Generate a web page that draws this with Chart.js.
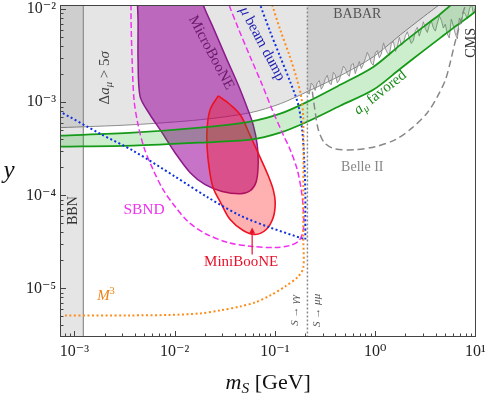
<!DOCTYPE html>
<html>
<head>
<meta charset="utf-8">
<title>Scalar parameter space</title>
<script src="https://cdn.jsdelivr.net/npm/chart.js@4.4.1/dist/chart.umd.min.js"></script>
<style>
html,body{margin:0;padding:0;background:#ffffff;}
canvas{display:block;}
</style>
</head>
<body>
<canvas id="chart" width="485" height="400"></canvas>
<script>
// ---------------- axis ranges ----------------
const xRange = [7.2e-4, 10];
const yRange = [3.0e-6, 1.11e-2];

// ---------------- data (m_S [GeV], y) ----------------
// Delta a_mu > 5 sigma exclusion boundary
const deltaAM = [7.0e-4, 3.85e-3, 1.80e-2, 5.67e-2, 0.113, 0.210, 0.448, 0.957, 1.78, 3.02, 4.46, 6.02];
const deltaAY = [5.33e-4, 5.74e-4, 6.49e-4, 7.72e-4, 9.64e-4, 1.30e-3, 1.93e-3, 3.08e-3, 5.30e-3, 8.27e-3, 1.14e-2, 1.50e-2];

// BBN band
const bbnM = [7.0e-4, 1.23e-3, 1.23e-3, 7.0e-4, 7.0e-4];
const bbnY = [2.0e-6, 2.0e-6, 2.0e-2, 2.0e-2, 2.0e-6];

// BABAR exclusion edge
const babarM = [0.210, 0.220, 0.230, 0.241, 0.252, 0.264, 0.277, 0.290, 0.303, 0.318,
                0.333, 0.349, 0.365, 0.382, 0.400, 0.419, 0.438, 0.459, 0.481, 0.503,
                0.527, 0.552, 0.578, 0.605, 0.633, 0.663, 0.694, 0.727, 0.761, 0.797,
                0.834, 0.873, 0.914, 0.956, 1.00, 1.05, 1.10, 1.15, 1.21, 1.26,
                1.32, 1.38, 1.45, 1.52, 1.59, 1.66, 1.74, 1.82, 1.91, 2.00,
                2.09, 2.19, 2.29, 2.40, 2.51, 2.63, 2.75, 2.88, 3.02, 3.16,
                3.31, 3.47, 3.63, 3.80, 3.98, 4.17, 4.36, 4.57, 4.78, 5.00,
                5.24, 5.48, 5.74, 6.01, 6.30, 6.59, 6.90, 7.23, 7.57, 7.93,
                8.30, 8.69, 9.10, 9.54, 10.0];
const babarY = [1.30e-3, 1.22e-3, 1.61e-3, 1.52e-3, 1.34e-3, 1.62e-3, 1.71e-3, 1.38e-3, 1.50e-3, 1.80e-3,
                1.95e-3, 1.60e-3, 1.55e-3, 2.10e-3, 1.97e-3, 1.62e-3, 1.73e-3, 2.05e-3, 2.45e-3, 2.30e-3,
                2.02e-3, 1.90e-3, 2.53e-3, 2.60e-3, 2.03e-3, 2.38e-3, 2.74e-3, 2.30e-3, 2.55e-3, 2.95e-3,
                3.44e-3, 3.10e-3, 2.63e-3, 2.50e-3, 3.38e-3, 3.60e-3, 3.00e-3, 3.30e-3, 4.35e-3, 3.80e-3,
                3.42e-3, 3.20e-3, 4.28e-3, 4.50e-3, 3.52e-3, 3.90e-3, 4.98e-3, 4.10e-3, 4.33e-3, 5.20e-3,
                5.72e-3, 4.90e-3, 4.28e-3, 4.60e-3, 5.79e-3, 6.40e-3, 5.14e-3, 6.00e-3, 7.32e-3, 6.20e-3,
                5.62e-3, 6.80e-3, 7.43e-3, 6.30e-3, 5.82e-3, 7.10e-3, 8.43e-3, 7.60e-3, 6.27e-3, 6.90e-3,
                5.40e-3, 4.90e-3, 7.83e-3, 6.60e-3, 5.40e-3, 4.80e-3, 8.03e-3, 7.00e-3, 9.47e-3, 8.80e-3,
                7.87e-3, 1.00e-2, 1.15e-2, 9.00e-3, 1.06e-2];

// a_mu favored band
const gM    = [7.0e-4, 3.85e-3, 1.80e-2, 5.67e-2, 0.113, 0.210, 0.448, 0.957, 1.78, 3.02, 4.46, 6.02, 7.07, 10.5];
const gUp   = [4.37e-4, 4.71e-4, 5.33e-4, 6.18e-4, 7.53e-4, 1.01e-3, 1.54e-3, 2.40e-3, 4.14e-3, 6.46e-3, 8.90e-3, 1.17e-2, 1.36e-2, 1.87e-2];
const gLow  = [3.33e-4, 3.42e-4, 3.68e-4, 3.96e-4, 4.71e-4, 6.18e-4, 9.17e-4, 1.36e-3, 2.29e-3, 3.57e-3, 4.92e-3, 6.30e-3, 7.13e-3, 9.83e-3];

// MicroBooNE region
const mbM = [4.22e-3, 4.32e-3, 4.32e-3, 4.53e-3, 5.69e-3, 7.17e-3, 1.01e-2, 1.43e-2, 2.02e-2, 2.98e-2, 4.51e-2, 5.67e-2,
             6.51e-2, 6.81e-2, 6.66e-2, 6.07e-2, 5.29e-2, 4.30e-2, 3.27e-2, 2.48e-2, 1.93e-2, 1.84e-2, 4.22e-3];
const mbY = [1.42e-2, 7.68e-3, 2.86e-3, 1.15e-3, 7.34e-4, 5.07e-4, 2.87e-4, 1.75e-4, 1.30e-4, 1.10e-4, 1.04e-4, 1.12e-4,
             1.40e-4, 2.14e-4, 3.50e-4, 5.74e-4, 8.73e-4, 1.54e-3, 3.00e-3, 6.00e-3, 1.11e-2, 1.42e-2, 1.42e-2];

// MiniBooNE region
const nbM = [2.72e-2, 3.50e-2, 4.51e-2, 5.67e-2, 7.14e-2, 8.57e-2, 9.62e-2, 0.1007, 9.62e-2, 8.19e-2,
             6.36e-2, 4.83e-2, 3.58e-2, 2.91e-2, 2.42e-2, 2.21e-2, 2.11e-2, 2.11e-2, 2.26e-2, 2.72e-2];
const nbY = [1.17e-3, 9.64e-4, 7.34e-4, 4.37e-4, 2.54e-4, 1.63e-4, 1.15e-4, 8.35e-5, 5.76e-5, 4.29e-5,
             3.79e-5, 4.18e-5, 5.49e-5, 8.15e-5, 1.21e-4, 1.98e-4, 3.25e-4, 5.33e-4, 8.31e-4, 1.17e-3];

// SBND projected contour
const sbM = [3.68e-3, 3.68e-3, 3.77e-3, 3.94e-3, 4.32e-3, 4.96e-3, 6.10e-3, 7.68e-3, 1.01e-2, 1.36e-2, 2.02e-2, 3.42e-2, 5.94e-2, 0.1007,
             0.142, 0.175, 0.192, 0.192, 0.183, 0.167, 0.142, 0.121, 9.40e-2, 7.47e-2, 5.67e-2, 4.30e-2, 3.50e-2, 3.34e-2];
const sbY = [1.42e-2, 7.68e-3, 2.86e-3, 1.06e-3, 5.74e-4, 3.25e-4, 1.89e-4, 1.15e-4, 7.57e-5, 5.22e-5, 3.88e-5, 3.11e-5, 2.82e-5, 2.75e-5,
             2.89e-5, 3.27e-5, 4.29e-5, 7.02e-5, 1.15e-4, 1.89e-4, 3.09e-4, 4.48e-4, 8.31e-4, 1.54e-3, 3.08e-3, 6.30e-3, 1.11e-2, 1.42e-2];

// mu beam dump (lower diagonal and right-hand edge)
const bdLowM = [6.42e-4, 1.81e-3, 3.85e-3, 1.01e-2, 2.16e-2, 4.51e-2, 8.98e-2, 0.201];
const bdLowY = [8.51e-4, 4.59e-4, 3.02e-4, 1.59e-4, 9.45e-5, 6.06e-5, 4.50e-5, 3.35e-5];
const bdUpM  = [0.201, 0.201, 0.201, 0.196, 0.187, 0.171, 0.142, 0.113, 8.98e-2, 7.14e-2, 6.81e-2];
const bdUpY  = [3.35e-5, 6.21e-5, 1.07e-4, 2.42e-4, 5.07e-4, 9.40e-4, 1.66e-3, 3.08e-3, 5.71e-3, 1.11e-2, 1.32e-2];

// M^3 projection
const m3M = [8.08e-4, 3.60e-3, 9.02e-3, 1.80e-2, 2.85e-2, 4.51e-2, 6.36e-2, 8.98e-2, 0.127, 0.171,
             0.192, 0.192, 0.192, 0.192, 0.183, 0.163, 0.139, 0.113, 9.40e-2, 8.98e-2];
const m3Y = [5.12e-6, 5.12e-6, 5.18e-6, 5.38e-6, 5.79e-6, 6.39e-6, 7.06e-6, 8.39e-6, 1.05e-5, 1.34e-5,
             1.68e-5, 3.35e-5, 1.07e-4, 6.49e-4, 1.15e-3, 1.88e-3, 3.23e-3, 6.00e-3, 1.11e-2, 1.32e-2];

// Belle II projection
const b2M = [0.236, 0.252, 0.271, 0.311, 0.391, 0.633, 1.00, 1.59, 2.35, 3.31, 4.17, 5.01, 5.62, 6.16, 6.75, 7.40, 7.93];
const b2Y = [1.30e-3, 7.91e-4, 5.07e-4, 3.68e-4, 3.17e-4, 3.09e-4, 3.33e-4, 3.96e-4, 5.33e-4, 7.72e-4, 1.15e-3, 1.74e-3, 2.72e-3, 4.14e-3, 6.00e-3, 8.69e-3, 1.11e-2];

// S -> mu mu threshold (2 m_mu)
const thrM = [0.211, 0.211];
const thrY = [1.0e-6, 1.0e-1];

// ---------------- text annotations (anchored in data units) ----------------
const FF = "'Liberation Serif','DejaVu Serif',serif";
const textLabels = [
  {m: 0.663,   y: 8.9e-3,  rot: 0,   size: 14,   color: '#555555', parts: [['BABAR']]},
  {m: 0.7435,  y: 1.98e-4, rot: 0,   size: 14,   color: '#888888', parts: [['Belle II']]},
  {m: 9.1,     y: 4.35e-3, rot: -90, size: 14,   color: '#333333', parts: [['CMS']]},
  {m: 2.03e-3, y: 1.83e-3, rot: -90, size: 15,   color: '#444444', parts: [['Δ'], ['a', 'i'], ['μ', 'ib'], [' > 5'], ['σ', 'i']]},
  {m: 9.7e-4,  y: 6.85e-5, rot: -90, size: 14,   color: '#333333', parts: [['BBN']]},
  {m: 2.31e-2, y: 3.40e-3, rot: 62,  size: 15,   color: '#6a1a6a', parts: [['MicroBooNE']]},
  {m: 7.47e-2, y: 4.24e-3, rot: 62,  size: 15,   color: '#1a1ab0', parts: [['μ', 'i'], [' beam dump']]},
  {m: 1.124,   y: 1.264e-3, rot: -38, size: 15,  color: '#1a8a1a', parts: [['a', 'i'], ['μ', 'ib'], [' favored']]},
  {m: 4.96e-3, y: 7.02e-5, rot: 0,   size: 15.5, color: '#ee33ee', parts: [['SBND']]},
  {m: 4.61e-2, y: 1.9e-5,  rot: 0,   size: 15,   color: '#e8102a', parts: [['MiniBooNE']]},
  {m: 2.07e-3, y: 8.18e-6, rot: 0,   size: 15,   color: '#f08010', parts: [['M', 'i'], ['3', 'p']]},
  {m: 0.1594,  y: 5.8e-6,  rot: -90, size: 11,   color: '#555555', parts: [['S', 'i'], [' → '], ['γγ', 'i']]},
  {m: 0.2644,  y: 5.8e-6,  rot: -90, size: 11,   color: '#555555', parts: [['S', 'i'], [' → '], ['μμ', 'i']]}
];
const arrowMini = {m: 5.93e-2, yFrom: 2.31e-5, yTo: 4.5e-5, color: '#e8102a'};

// ---------------- helpers ----------------
const pts = (ms, ys) => ms.map((m, i) => ({x: m, y: ys[i]}));
const SUP = {'-': '⁻', '0': '⁰', '1': '¹', '2': '²', '3': '³', '4': '⁴', '5': '⁵', '6': '⁶', '7': '⁷', '8': '⁸', '9': '⁹'};
function decadeExp(v) { const l = Math.log10(v); const r = Math.round(l); return Math.abs(l - r) < 1e-6 ? r : null; }
function decadeLabel(v) { const e = decadeExp(v); return e === null ? '' : '10' + String(e).split('').map(c => SUP[c]).join(''); }
function keepIntegerTicks(scale) {
  scale.ticks = scale.ticks.filter(t => {
    const e = Math.floor(Math.log10(t.value) + 1e-9);
    const s = t.value / Math.pow(10, e);
    return Math.abs(s - Math.round(s)) < 1e-6;
  });
}

function drawRich(ctx, parts, size, color) {
  const items = parts.map(([t, f = '']) => {
    const small = f.includes('b') || f.includes('p');
    const s = small ? size * 0.7 : size;
    const font = (f.includes('i') ? 'italic ' : '') + s + 'px ' + FF;
    ctx.font = font;
    const w = ctx.measureText(t).width;
    const dy = f.includes('b') ? size * 0.28 : (f.includes('p') ? -size * 0.38 : 0);
    return {t, font, w, dy};
  });
  const total = items.reduce((a, b) => a + b.w, 0);
  let x = -total / 2;
  ctx.fillStyle = color;
  ctx.textBaseline = 'middle';
  ctx.textAlign = 'left';
  items.forEach(it => { ctx.font = it.font; ctx.fillText(it.t, x, it.dy); x += it.w; });
}

// ---------------- datasets (listed bottom -> top) ----------------
const base = {showLine: true, pointRadius: 0, pointHoverRadius: 0, pointHitRadius: 0, fill: false, tension: 0};
const layers = [
  {...base, label: 'Δa_μ > 5σ', data: pts(deltaAM, deltaAY), borderColor: '#8c8c8c', borderWidth: 1,
    fill: 'end', backgroundColor: 'rgba(0,0,0,0.10)', tension: 0.3},
  {...base, label: 'BBN', data: pts(bbnM, bbnY), borderColor: '#8c8c8c', borderWidth: 1.2,
    fill: 'shape', backgroundColor: 'rgba(0,0,0,0.10)'},
  {...base, label: 'BABAR', data: pts(babarM, babarY), borderColor: '#8a8a8a', borderWidth: 0.9,
    fill: 'end', backgroundColor: 'rgba(0,0,0,0.10)'},
  {...base, label: 'MicroBooNE', data: pts(mbM, mbY), borderColor: '#8b1a8b', borderWidth: 1.5,
    fill: 'shape', backgroundColor: 'rgba(153,0,153,0.55)', tension: 0.3},
  {...base, label: 'MiniBooNE', data: pts(nbM, nbY), borderColor: '#ee1122', borderWidth: 1.6,
    fill: 'shape', backgroundColor: 'rgba(255,0,0,0.31)', tension: 0.35},
  {...base, label: 'a_μ favored (low)', data: pts(gM, gLow), borderColor: '#17991a', borderWidth: 1.8, tension: 0.3},
  {...base, label: 'a_μ favored (high)', data: pts(gM, gUp), borderColor: '#17991a', borderWidth: 1.8, tension: 0.3,
    fill: 5, backgroundColor: 'rgba(0,170,0,0.20)'},
  {...base, label: 'SBND', data: pts(sbM, sbY), borderColor: '#f230f2', borderWidth: 1.5, borderDash: [6, 3], tension: 0.3},
  {...base, label: 'μ beam dump', data: pts(bdLowM, bdLowY), borderColor: '#1030e0', borderWidth: 2, borderDash: [2, 2.5], tension: 0.3},
  {...base, label: 'μ beam dump edge', data: pts(bdUpM, bdUpY), borderColor: '#1030e0', borderWidth: 2, borderDash: [2, 2.5], tension: 0.3},
  {...base, label: 'M³', data: pts(m3M, m3Y), borderColor: '#ff8c1a', borderWidth: 2, borderDash: [2, 2.5], tension: 0.3},
  {...base, label: 'Belle II', data: pts(b2M, b2Y), borderColor: '#888888', borderWidth: 1.5, borderDash: [7, 4], tension: 0.3},
  {...base, label: '2m_μ', data: pts(thrM, thrY), borderColor: '#888888', borderWidth: 1.5, borderDash: [2, 2]}
];
layers.forEach((d, i) => { d.order = layers.length - i; });

// ---------------- overlay plugin: ticks, frame, labels, titles ----------------
const overlay = {
  id: 'overlay',
  afterDatasetsDraw(chart) {
    const {ctx, chartArea: a, scales: {x, y}} = chart;
    ctx.save();
    // inward ticks
    ctx.strokeStyle = '#444444';
    ctx.lineWidth = 1;
    ctx.beginPath();
    x.ticks.forEach(t => {
      const px = Math.round(x.getPixelForValue(t.value)) + 0.5;
      if (px < a.left || px > a.right) return;
      const L = decadeExp(t.value) !== null ? 6 : 3.5;
      ctx.moveTo(px, a.bottom); ctx.lineTo(px, a.bottom - L);
    });
    y.ticks.forEach(t => {
      const py = Math.round(y.getPixelForValue(t.value)) + 0.5;
      if (py < a.top || py > a.bottom) return;
      const L = decadeExp(t.value) !== null ? 6 : 3.5;
      ctx.moveTo(a.left, py); ctx.lineTo(a.left + L, py);
    });
    ctx.stroke();
    // frame
    ctx.strokeStyle = '#444444';
    ctx.strokeRect(Math.round(a.left) + 0.5, Math.round(a.top) + 0.5,
                   Math.round(a.right - a.left) - 1, Math.round(a.bottom - a.top) - 1);

    // MiniBooNE arrow
    const ax = x.getPixelForValue(arrowMini.m);
    const ay0 = y.getPixelForValue(arrowMini.yFrom);
    const ay1 = y.getPixelForValue(arrowMini.yTo);
    ctx.strokeStyle = arrowMini.color; ctx.fillStyle = arrowMini.color; ctx.lineWidth = 1.2;
    ctx.beginPath(); ctx.moveTo(ax, ay0); ctx.lineTo(ax, ay1 + 2); ctx.stroke();
    ctx.beginPath(); ctx.moveTo(ax, ay1); ctx.lineTo(ax - 3, ay1 + 6); ctx.lineTo(ax + 3, ay1 + 6); ctx.closePath(); ctx.fill();

    // labels
    textLabels.forEach(L => {
      ctx.save();
      ctx.translate(x.getPixelForValue(L.m), y.getPixelForValue(L.y));
      ctx.rotate(L.rot * Math.PI / 180);
      drawRich(ctx, L.parts, L.size, L.color);
      ctx.restore();
    });

    // axis titles
    ctx.save();
    ctx.translate((a.left + a.right) / 2 + 0.5, 383);
    drawRich(ctx, [['m', 'i'], ['S', 'ib'], [' [GeV]']], 22, '#111111');
    ctx.restore();
    ctx.save();
    ctx.translate(9, (a.top + a.bottom) / 2);
    drawRich(ctx, [['y', 'i']], 25, '#111111');
    ctx.restore();
    ctx.restore();
  }
};

const tickFont = {family: FF, size: 16};
new Chart(document.getElementById('chart').getContext('2d'), {
  type: 'scatter',
  data: {datasets: layers},
  options: {
    responsive: false,
    animation: false,
    devicePixelRatio: 1,
    events: [],
    layout: {padding: {top: 5, right: 9.5, left: 0, bottom: 0}},
    plugins: {legend: {display: false}, tooltip: {enabled: false}},
    scales: {
      x: {
        type: 'logarithmic', min: xRange[0], max: xRange[1],
        grid: {display: false, drawTicks: false}, border: {display: false},
        ticks: {autoSkip: false, maxRotation: 0, minRotation: 0, padding: 5, color: '#222222', font: tickFont, callback: decadeLabel},
        afterBuildTicks: keepIntegerTicks,
        afterFit(s) { s.height = 63; s.paddingLeft = 0; s.paddingRight = 0; }
      },
      y: {
        type: 'logarithmic', min: yRange[0], max: yRange[1],
        grid: {display: false, drawTicks: false}, border: {display: false},
        ticks: {autoSkip: false, padding: 4, color: '#222222', font: tickFont, callback: decadeLabel},
        afterBuildTicks: keepIntegerTicks,
        afterFit(s) { s.width = 60; s.paddingTop = 0; s.paddingBottom = 0; }
      }
    }
  },
  plugins: [overlay]
});
</script>
</body>
</html>
